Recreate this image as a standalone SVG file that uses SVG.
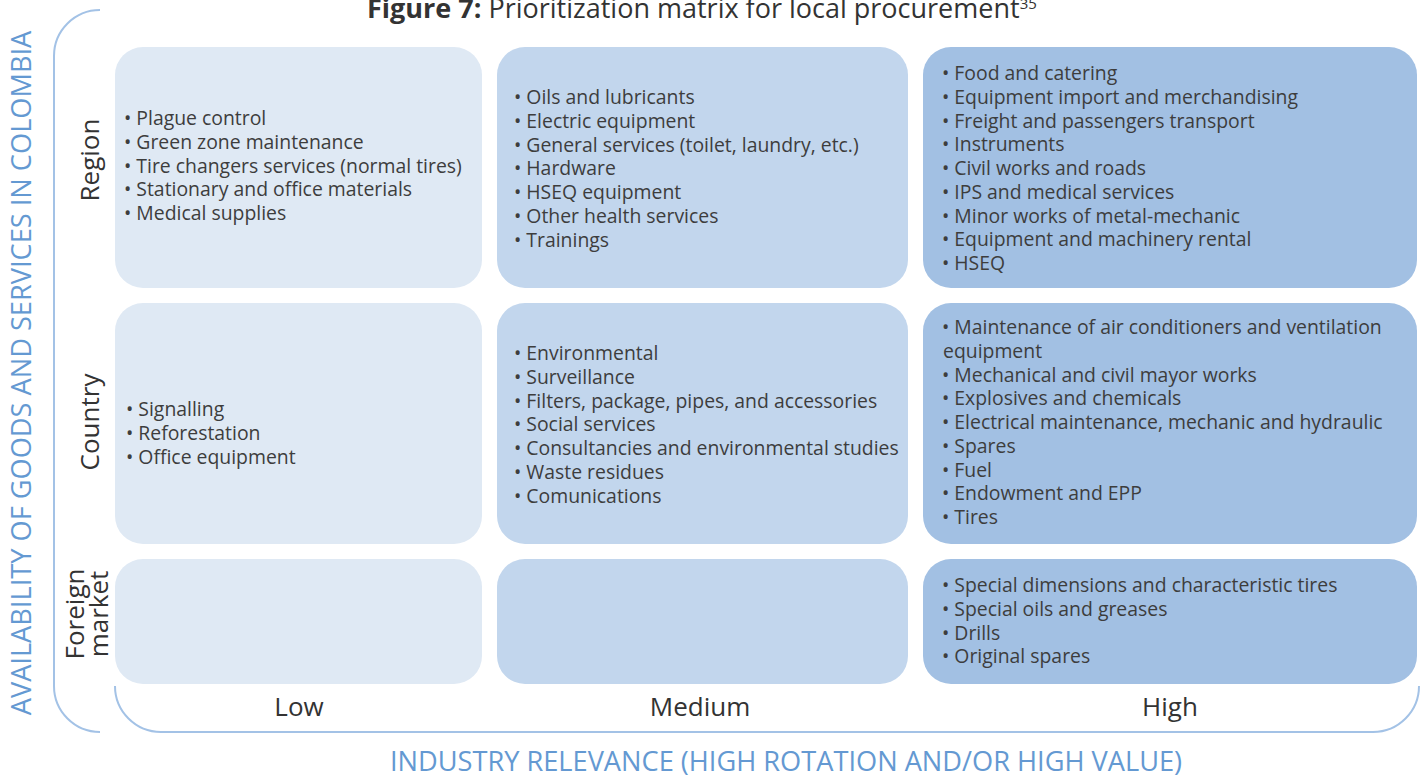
<svg xmlns="http://www.w3.org/2000/svg" width="1424" height="775" viewBox="0 0 1424 775">
<style>
  .c1{fill:#dfe9f4}
  .c2{fill:#c2d6ed}
  .c3{fill:#a2c0e3}
  .it{font-family:"Open Sans","Noto Sans",sans-serif;font-size:19.4px;fill:#3d3d3d}
  .lab{font-family:"Open Sans","Noto Sans",sans-serif;font-size:26px;fill:#333333}
  .ax{font-family:"Open Sans","Noto Sans",sans-serif;font-size:27.2px;fill:#6499d2}
  .br{fill:none;stroke:#a3c2e6;stroke-width:2}
</style>
<rect width="1424" height="775" fill="#ffffff"/>
<g id="title">
  <text x="367" y="18" font-family="'Open Sans','Noto Sans',sans-serif" font-size="27" fill="#333333"><tspan font-weight="bold">Figure 7:</tspan> Prioritization matrix for local procurement<tspan font-size="15" dy="-9">35</tspan></text>
</g>
<g id="connectors">
  <path class="br" d="M100,10 A46,46 0 0 0 54,56 L54,686 A46,46 0 0 0 100,732"/>
  <path class="br" d="M115,686 A46,46 0 0 0 161,732 L1373,732 A46,46 0 0 0 1419,686"/>
</g>
<g id="axis-y">
  <text class="ax" transform="translate(31,373) rotate(-90)" text-anchor="middle">AVAILABILITY OF GOODS AND SERVICES IN COLOMBIA</text>
</g>
<g id="axis-x">
  <text class="ax" x="786" y="771" text-anchor="middle">INDUSTRY RELEVANCE (HIGH ROTATION AND/OR HIGH VALUE)</text>
</g>
<g id="row-labels">
  <text class="lab" transform="translate(99,160) rotate(-90)" text-anchor="middle">Region</text>
  <text class="lab" transform="translate(99,422) rotate(-90)" text-anchor="middle">Country</text>
  <text class="lab" transform="translate(84,614) rotate(-90)" text-anchor="middle">Foreign</text>
  <text class="lab" transform="translate(108,614) rotate(-90)" text-anchor="middle">market</text>
</g>
<g id="col-labels">
  <text class="lab" x="299" y="716" text-anchor="middle">Low</text>
  <text class="lab" x="700" y="716" text-anchor="middle">Medium</text>
  <text class="lab" x="1170" y="716" text-anchor="middle">High</text>
</g>
<g id="cell-region-low">
  <rect class="c1" x="115" y="47" width="367" height="241" rx="28"/>
  <text class="it">
    <tspan x="124" y="125">• Plague control</tspan>
    <tspan x="124" y="148.75">• Green zone maintenance</tspan>
    <tspan x="124" y="172.5">• Tire changers services (normal tires)</tspan>
    <tspan x="124" y="196.25">• Stationary and office materials</tspan>
    <tspan x="124" y="220">• Medical supplies</tspan>
  </text>
</g>
<g id="cell-region-medium">
  <rect class="c2" x="497" y="47" width="411" height="241" rx="28"/>
  <text class="it">
    <tspan x="514" y="104">• Oils and lubricants</tspan>
    <tspan x="514" y="127.75">• Electric equipment</tspan>
    <tspan x="514" y="151.5">• General services (toilet, laundry, etc.)</tspan>
    <tspan x="514" y="175.25">• Hardware</tspan>
    <tspan x="514" y="199">• HSEQ equipment</tspan>
    <tspan x="514" y="222.75">• Other health services</tspan>
    <tspan x="514" y="246.5">• Trainings</tspan>
  </text>
</g>
<g id="cell-region-high">
  <rect class="c3" x="923" y="47" width="494" height="241" rx="28"/>
  <text class="it">
    <tspan x="942" y="80">• Food and catering</tspan>
    <tspan x="942" y="103.75">• Equipment import and merchandising</tspan>
    <tspan x="942" y="127.5">• Freight and passengers transport</tspan>
    <tspan x="942" y="151.25">• Instruments</tspan>
    <tspan x="942" y="175">• Civil works and roads</tspan>
    <tspan x="942" y="198.75">• IPS and medical services</tspan>
    <tspan x="942" y="222.5">• Minor works of metal-mechanic</tspan>
    <tspan x="942" y="246.25">• Equipment and machinery rental</tspan>
    <tspan x="942" y="270">• HSEQ</tspan>
  </text>
</g>
<g id="cell-country-low">
  <rect class="c1" x="115" y="303" width="367" height="241" rx="28"/>
  <text class="it">
    <tspan x="126" y="416">• Signalling</tspan>
    <tspan x="126" y="439.75">• Reforestation</tspan>
    <tspan x="126" y="463.5">• Office equipment</tspan>
  </text>
</g>
<g id="cell-country-medium">
  <rect class="c2" x="497" y="303" width="411" height="241" rx="28"/>
  <text class="it">
    <tspan x="514" y="360">• Environmental</tspan>
    <tspan x="514" y="383.75">• Surveillance</tspan>
    <tspan x="514" y="407.5">• Filters, package, pipes, and accessories</tspan>
    <tspan x="514" y="431.25">• Social services</tspan>
    <tspan x="514" y="455">• Consultancies and environmental studies</tspan>
    <tspan x="514" y="478.75">• Waste residues</tspan>
    <tspan x="514" y="502.5">• Comunications</tspan>
  </text>
</g>
<g id="cell-country-high">
  <rect class="c3" x="923" y="303" width="494" height="241" rx="28"/>
  <text class="it">
    <tspan x="942" y="334">• Maintenance of air conditioners and ventilation</tspan>
    <tspan x="943" y="357.75">equipment</tspan>
    <tspan x="942" y="381.5">• Mechanical and civil mayor works</tspan>
    <tspan x="942" y="405.25">• Explosives and chemicals</tspan>
    <tspan x="942" y="429">• Electrical maintenance, mechanic and hydraulic</tspan>
    <tspan x="942" y="452.75">• Spares</tspan>
    <tspan x="942" y="476.5">• Fuel</tspan>
    <tspan x="942" y="500.25">• Endowment and EPP</tspan>
    <tspan x="942" y="524">• Tires</tspan>
  </text>
</g>
<g id="cell-foreign-low">
  <rect class="c1" x="115" y="559" width="367" height="125" rx="28"/>
</g>
<g id="cell-foreign-medium">
  <rect class="c2" x="497" y="559" width="411" height="125" rx="28"/>
</g>
<g id="cell-foreign-high">
  <rect class="c3" x="923" y="559" width="494" height="125" rx="28"/>
  <text class="it">
    <tspan x="942" y="592">• Special dimensions and characteristic tires</tspan>
    <tspan x="942" y="615.75">• Special oils and greases</tspan>
    <tspan x="942" y="639.5">• Drills</tspan>
    <tspan x="942" y="663.25">• Original spares</tspan>
  </text>
</g>
</svg>
